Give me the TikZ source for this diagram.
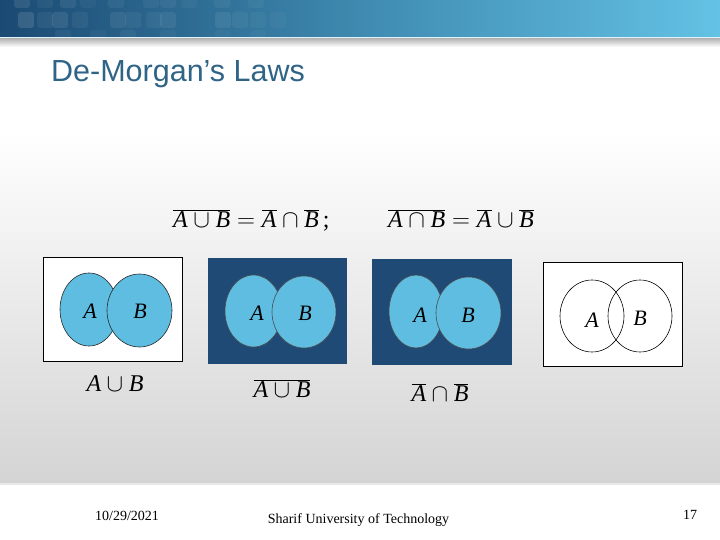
\documentclass[tikz,border=0pt]{standalone}
\usepackage{fontspec}
\setmainfont{Liberation Serif}
\newfontfamily\titlefont{Liberation Sans}
\definecolor{bannerL}{HTML}{1B4A73}
\definecolor{bannerM}{HTML}{3F8AB0}
\definecolor{bannerR}{HTML}{63C2E5}
\definecolor{titleC}{HTML}{2F6487}
\definecolor{darkbox}{HTML}{1F4A75}
\definecolor{setfill}{HTML}{5FBDE1}
\definecolor{bodygray}{HTML}{D4D4D4}
\newcommand\iA{\textit{A}}
\newcommand\iB{\textit{B}}
\tikzset{
  framebox/.style={draw=black, line width=0.8pt},
  setA/.style={draw=black!85, line width=0.6pt, fill=setfill},
  setW/.style={draw=black, line width=0.6pt},
  setlabel/.style={font=\fontsize{22}{24}\selectfont\itshape, inner sep=0pt},
  eqlabel/.style={font=\fontsize{24}{28}\selectfont, inner sep=0pt, anchor=base},
  footer/.style={font=\fontsize{14}{16}\selectfont, inner sep=0pt}
}
\begin{document}
\begin{tikzpicture}[x=1pt,y=-1pt]
\useasboundingbox (0,0) rectangle (720,540);
% background
\fill[white] (0,0) rectangle (720,540);
\fill[white] (0,47) rectangle (720,130);
\shade[top color=white, bottom color=bodygray] (0,130) rectangle (720,483);
\fill[black!9] (0,483) rectangle (720,485);
% banner
\shade[left color=bannerL, right color=bannerM] (0,0) rectangle (361,37);
\shade[left color=bannerM, right color=bannerR] (360,0) rectangle (720,37);
\foreach \x/\y/\o in {14/-8/0.09, 37/-8/0.05, 60/-8/0.07, 80/-8/0.04, 108/-8/0.06, 143/-8/0.05, 160/-8/0.06, 181/-8/0.04, 214/-8/0.05, 248/-8/0.04,
  18/12/0.12, 37/12/0.06, 52/12/0.09, 72/12/0.05, 110/12/0.07, 125/12/0.05, 146/12/0.05, 160/12/0.07, 215/12/0.07, 232/12/0.05, 250/12/0.04, 270/12/0.03,
  55/30/0.05, 90/30/0.04, 120/30/0.05, 160/30/0.04, 215/30/0.03, 250/30/0.03}
  \fill[white, opacity=\o, rounded corners=3pt] (\x,\y) rectangle ++(16,16);
\fill[white!80!bannerR] (0,37) rectangle (720,38.2);
\shade[top color=black!30, bottom color=white] (0,38.2) rectangle (720,47);
% title
\node[anchor=base west, inner sep=0pt, text=titleC, font=\titlefont\fontsize{30.5}{34}\selectfont] (title) at (51,82) {De-Morgan’s Laws};
% equations
\node[eqlabel, anchor=base west] (eq1) at (173,227) {$\overline{\iA\cup\iB}=\overline{\iA}\cap\overline{\iB}$\,;};
\node[eqlabel, anchor=base west] (eq2) at (388,227) {$\overline{\iA\cap\iB}=\overline{\iA}\cup\overline{\iB}$};
% box 1: A union B
\draw[framebox, fill=white] (43,257) rectangle (182,361);
\draw[setA] (89,309.5) ellipse [x radius=29, y radius=36.5];
\draw[setA] (139.5,310.5) ellipse [x radius=32.5, y radius=36.5];
\node[setlabel] (a1) at (90,311) {A};
\node[setlabel] (b1) at (140,311) {B};
\node[eqlabel] (l1) at (115,391) {$\iA\cup\iB$};
% box 2: complement of union
\draw[framebox, draw=darkbox, fill=darkbox] (208,258) rectangle (346,363);
\draw[setA, draw=black!70] (253.5,311) ellipse [x radius=28.5, y radius=36];
\draw[setA, draw=black!70] (304,312) ellipse [x radius=32, y radius=36];
\node[setlabel] (a2) at (257,313) {A};
\node[setlabel] (b2) at (305,313) {B};
\node[eqlabel] (l2) at (282,397) {$\overline{\iA\cup\iB}$};
% box 3: A-bar cap B-bar
\draw[framebox, draw=darkbox, fill=darkbox] (372,259) rectangle (511,364);
\draw[setA, draw=black!70] (416,311.5) ellipse [x radius=27, y radius=36.5];
\draw[setA, draw=black!70] (468.5,313) ellipse [x radius=32.5, y radius=36];
\node[setlabel] (a3) at (420,315) {A};
\node[setlabel] (b3) at (468,315) {B};
\node[eqlabel] (l3) at (440,401) {$\overline{\iA}\cap\overline{\iB}$};
% box 4: plain
\draw[framebox, fill=white] (543,262) rectangle (682,366);
\draw[setW] (592,316) ellipse [x radius=32, y radius=36];
\draw[setW] (640,316) ellipse [x radius=32, y radius=36];
\node[setlabel] (a4) at (592,320) {A};
\node[setlabel] (b4) at (640,318) {B};
% footer
\node[footer] (date) at (127,516) {10/29/2021};
\node[footer] (uni) at (358.5,520) {Sharif University of Technology};
\node[footer] (page) at (690,515) {17};
\end{tikzpicture}
\end{document}
